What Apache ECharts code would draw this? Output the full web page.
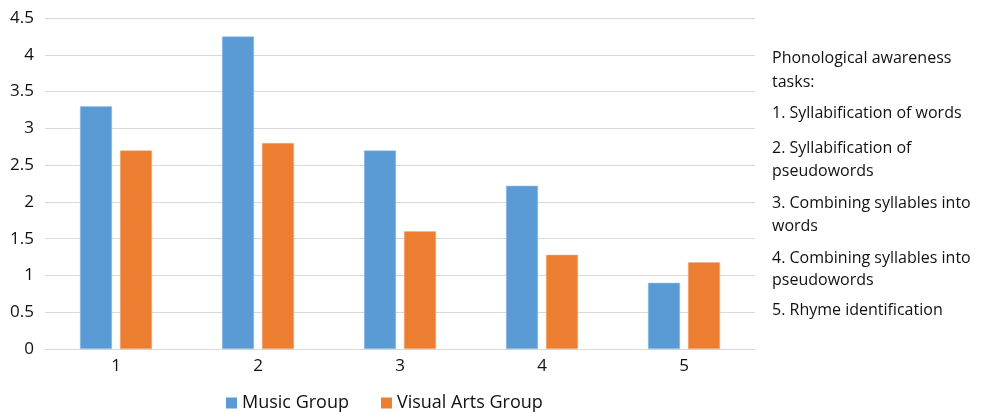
<!DOCTYPE html>
<html><head><meta charset="utf-8">
<script src="https://cdn.jsdelivr.net/npm/echarts@6/dist/echarts.min.js"></script>
<style>html,body{margin:0;padding:0;background:#fff}#c{width:981px;height:412px}</style>
</head><body><div id="c"></div>
<script>
const categories = ['1', '2', '3', '4', '5'];
const musicGroup = [3.3, 4.25, 2.7, 2.22, 0.9];
const visualArtsGroup = [2.7, 2.8, 1.6, 1.28, 1.18];
const yTicks = { min: 0, max: 4.5, interval: 0.5 };
const seriesNames = ['Music Group', 'Visual Arts Group'];
const noteLines = [
  ['Phonological awareness', 58],
  ['tasks:', 82],
  ['1. Syllabification of words', 113],
  ['2. Syllabification of', 148],
  ['pseudowords', 171],
  ['3. Combining syllables into', 203],
  ['words', 226],
  ['4. Combining syllables into', 258],
  ['pseudowords', 280],
  ['5. Rhyme identification', 310]
];
const FONT = 'Open Sans';
const TXT = '#111';
const chart = echarts.init(document.getElementById('c'));
chart.setOption({
  animation: false,
  textStyle: { fontFamily: FONT },
  grid: { left: 45, right: 226, top: 18, bottom: 63 },
  legend: {
    top: 389, left: 221, itemWidth: 11, itemHeight: 11, itemGap: 32, icon: 'rect',
    itemStyle: { borderWidth: 0 },
    textStyle: { fontSize: 18, color: TXT, fontFamily: FONT }
  },
  xAxis: {
    type: 'category', data: categories,
    axisLine: { lineStyle: { color: '#D9D9D9', width: 1 } },
    axisTick: { show: false },
    axisLabel: { fontSize: 17, color: TXT, margin: 9 }
  },
  yAxis: {
    type: 'value', min: yTicks.min, max: yTicks.max, interval: yTicks.interval,
    splitLine: { lineStyle: { color: '#D9D9D9', width: 1 } },
    axisLine: { show: false }, axisTick: { show: false },
    axisLabel: { fontSize: 17, color: TXT, margin: 11 }
  },
  series: [
    { name: seriesNames[0], type: 'bar', data: musicGroup, barWidth: 32, barGap: '25%',
      itemStyle: { color: '#5B9BD5', borderColor: '#9DC3E6', borderWidth: 0.5 } },
    { name: seriesNames[1], type: 'bar', data: visualArtsGroup, barWidth: 32, barGap: '25%',
      itemStyle: { color: '#ED7D31', borderColor: '#F4B183', borderWidth: 0.5 } }
  ],
  graphic: noteLines.map(([t, y]) => ({
    type: 'text', left: 772, top: y - 8,
    style: { text: t, fontSize: 16, fill: TXT, fontFamily: FONT }
  }))
});
</script></body></html>
